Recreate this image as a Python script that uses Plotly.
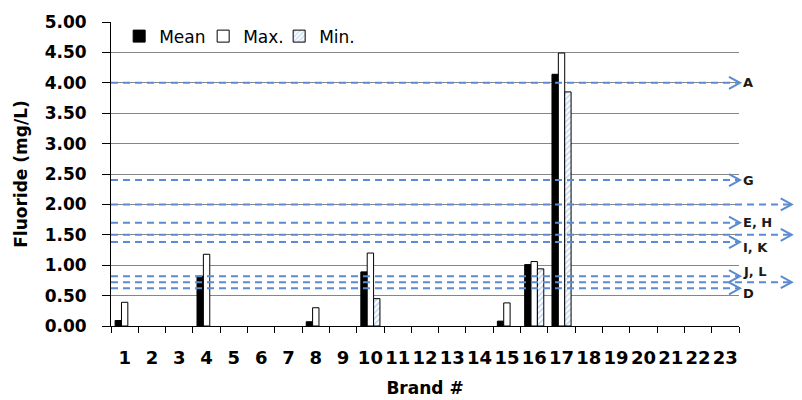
import plotly.graph_objects as go

# ---------------- data ----------------
brands = list(range(1, 24))
mean_vals = [0.09, None, None, 0.82, None, None, None, 0.07, None, 0.89, None, None,
             None, None, 0.08, 1.01, 4.14, None, None, None, None, None, None]
max_vals = [0.39, None, None, 1.18, None, None, None, 0.30, None, 1.20, None, None,
            None, None, 0.38, 1.06, 4.49, None, None, None, None, None, None]
min_vals = [None, None, None, None, None, None, None, None, None, 0.45, None, None,
            None, None, None, 0.94, 3.85, None, None, None, None, None, None]
y_ticks = [0.0, 0.5, 1.0, 1.5, 2.0, 2.5, 3.0, 3.5, 4.0, 4.5, 5.0]

ref_values = [4.0, 2.4, 2.0, 1.7, 1.5, 1.38, 0.82, 0.72, 0.62]
ref_labels = ["A", "G", "B", "E, H", "C", "I, K", "J, L", "F", "D"]

# ---------------- styles ----------------
ref_long = [False, False, True, False, True, False, False, True, False]
ref_label_shift = [0, 0, 0, 0, 0, -5, 5, 0, -5]
short_end = 1.0016   # paper fraction where short arrows end
long_end = 1.084     # paper fraction where long arrows end
ref_color = "#5B8BD0"
FONT = "DejaVu Sans"

fig = go.Figure()
fig.add_trace(go.Bar(x=brands, y=mean_vals, name="Mean", legendwidth=39,
                     marker=dict(color="black", line=dict(color="black", width=1))))
fig.add_trace(go.Bar(x=brands, y=max_vals, name="Max.", legendwidth=31,
                     marker=dict(color="white", line=dict(color="black", width=1))))
fig.add_trace(go.Bar(x=brands, y=min_vals, name="Min.",
                     marker=dict(color="white", line=dict(color="black", width=1),
                                 pattern=dict(shape="/", fgcolor="#8DB3E2", bgcolor="white",
                                              size=4, solidity=0.45))))

shapes = []
annotations = []
for v, lab, lng, sh in zip(ref_values, ref_labels, ref_long, ref_label_shift):
    end = long_end if lng else short_end
    shapes.append(dict(type="line", xref="paper", yref="y", x0=0, x1=end - 0.001, y0=v, y1=v,
                       line=dict(color=ref_color, width=2, dash="7px,5px"), layer="above"))
    shapes.append(dict(type="path", xref="paper", yref="y", xsizemode="pixel", ysizemode="pixel",
                       xanchor=end, yanchor=v, path="M-11,-6L0,0L-11,6",
                       line=dict(color=ref_color, width=2), layer="above"))
    annotations.append(dict(xref="paper", yref="y", x=end, y=v, xshift=1, yshift=sh,
                            text="<b>%s</b>" % lab, showarrow=False, xanchor="left",
                            yanchor="middle",
                            font=dict(family=FONT, size=13, color="#1a1a1a")))

fig.update_layout(
    width=794, height=392,
    margin=dict(l=103, r=63, t=13, b=74),
    paper_bgcolor="white", plot_bgcolor="white",
    barmode="group", bargap=0.3, bargroupgap=0,
    font=dict(family=FONT, color="black"),
    shapes=shapes, annotations=annotations,
    legend=dict(orientation="h", x=0.013, y=1.008, xanchor="left", yanchor="top",
                font=dict(family=FONT, size=17), bgcolor="rgba(0,0,0,0)",
                traceorder="normal"),
    xaxis=dict(type="linear", range=[0.5, 23.5], tickvals=brands, automargin=False,
               ticktext=[str(b) for b in brands], ticks="", showgrid=False, zeroline=False,
               showline=True, linecolor="black", linewidth=1,
               tickfont=dict(family=FONT, size=18, color="black", weight="bold"),
               ticklabelstandoff=15,
               minor=dict(tick0=0.5, dtick=1, ticks="outside", ticklen=6,
                          tickcolor="black", tickwidth=1),
               title=dict(text="<b>Brand #</b>", font=dict(family=FONT, size=17), standoff=15)),
    yaxis=dict(range=[0, 5], tickvals=y_ticks, tickformat=".2f", automargin=False,
               showgrid=True, gridcolor="#868686", gridwidth=1, zeroline=False,
               showline=True, linecolor="black", linewidth=1,
               ticks="outside", ticklen=8, tickcolor="black",
               ticklabelstandoff=12,
               tickfont=dict(family=FONT, size=17, color="black", weight="bold"),
               title=dict(text="<b>Fluoride (mg/L)</b>", font=dict(family=FONT, size=17),
                          standoff=12)),
)

fig.write_html("out.html")
